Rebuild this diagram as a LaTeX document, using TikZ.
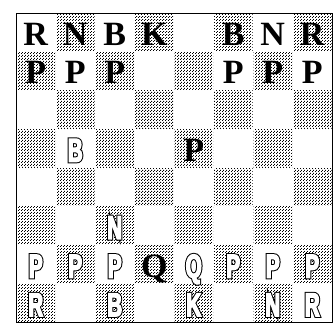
\documentclass[tikz,border=0pt]{standalone}
\usepackage{fontspec}
\usepackage{xcolor}
\setmainfont{Liberation Serif}
\newfontfamily\wfont[FakeStretch=0.62]{Liberation Sans}
\usetikzlibrary{patterns}
\pgfdeclarepatternformonly{stipple}{\pgfpointorigin}{\pgfpoint{3pt}{3pt}}{\pgfpoint{3pt}{3pt}}{%
  \pgfpathrectangle{\pgfpointorigin}{\pgfpoint{1.1pt}{1.1pt}}%
  \pgfpathrectangle{\pgfpoint{1.5pt}{1.5pt}}{\pgfpoint{1.1pt}{1.1pt}}%
  \pgfusepath{fill}}
\newcommand\hollowtxt[1]{%
  \rlap{\color{black}\special{pdf:literal direct 0 G 2 Tr 3.4 w}#1\special{pdf:literal direct 0 Tr}}%
  {\color{white}\special{pdf:literal direct 1 G 2 Tr 1.4 w}#1\special{pdf:literal direct 0 Tr}}}
\tikzset{
  darksq/.style={pattern=stipple, pattern color=black},
  bpc/.style={inner sep=0, anchor=base, yshift=-13, font=\fontsize{34}{34}\selectfont\bfseries},
  wpc/.style={inner sep=0, anchor=base, yshift=-13.5, font=\fontsize{33}{33}\selectfont\wfont\bfseries},
}
\newcommand\blackpiece[3]{\node[bpc] (#1) at (#2) {#3};}
\newcommand\whitepiece[3]{\node[wpc] (#1) at (#2) {\hollowtxt{#3}};}
\begin{document}
\begin{tikzpicture}[x=1pt,y=1pt]
\useasboundingbox (0,0) rectangle (336,-327);
\fill[white] (0,0) rectangle (336,-327);
\def\sw{39.5}
\def\sh{38.625}
\foreach \r in {0,...,7}{
  \foreach \c in {0,...,7}{
    \coordinate (s\r\c) at ({16+\sw*(\c+0.5)},{-(13+\sh*(\r+0.5))});
    \pgfmathtruncatemacro\sqpar{mod(\r+\c,2)}
    \ifnum\sqpar=1
      \path[darksq] ({16+\sw*\c+0.5},{-(13+\sh*\r)-0.5}) rectangle ({16+\sw*(\c+1)-0.5},{-(13+\sh*(\r+1))+0.5});
    \fi
  }
}
\draw[line width=0.9] (16,-13) rectangle (332,-322);
% black pieces
\blackpiece{bR1}{s00}{R}
\blackpiece{bN1}{s01}{N}
\blackpiece{bB1}{s02}{B}
\blackpiece{bK}{s03}{K}
\blackpiece{bB2}{s05}{B}
\blackpiece{bN2}{s06}{N}
\blackpiece{bR2}{s07}{R}
\blackpiece{bP1}{s10}{P}
\blackpiece{bP2}{s11}{P}
\blackpiece{bP3}{s12}{P}
\blackpiece{bP6}{s15}{P}
\blackpiece{bP7}{s16}{P}
\blackpiece{bP8}{s17}{P}
\blackpiece{bP5}{s34}{P}
\blackpiece{bQ}{s63}{Q}
% white pieces
\whitepiece{wB1}{s31}{B}
\whitepiece{wN1}{s52}{N}
\whitepiece{wP1}{s60}{P}
\whitepiece{wP2}{s61}{P}
\whitepiece{wP3}{s62}{P}
\whitepiece{wQ}{s64}{Q}
\whitepiece{wP6}{s65}{P}
\whitepiece{wP7}{s66}{P}
\whitepiece{wP8}{s67}{P}
\whitepiece{wR1}{s70}{R}
\whitepiece{wB2}{s72}{B}
\whitepiece{wK}{s74}{K}
\whitepiece{wN2}{s76}{N}
\whitepiece{wR2}{s77}{R}
\end{tikzpicture}
\end{document}
